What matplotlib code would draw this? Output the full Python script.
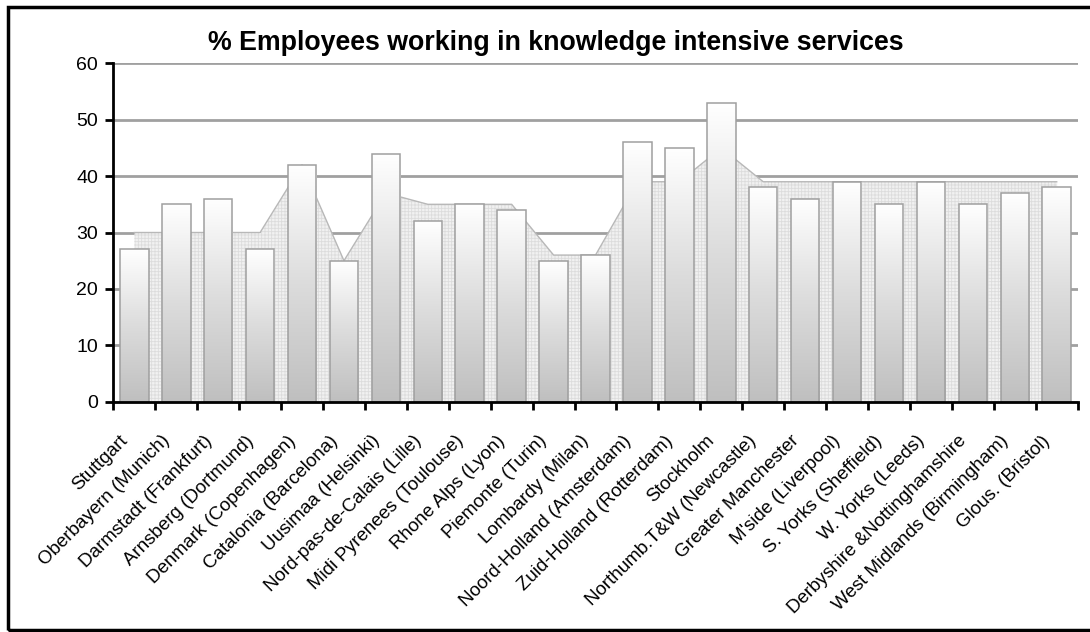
import numpy as np
import matplotlib.pyplot as plt
from matplotlib.patches import Rectangle
from matplotlib.colors import LinearSegmentedColormap

plt.rcParams['font.family'] = ['Liberation Sans', 'DejaVu Sans']

regions = [
    'Stuttgart', 'Oberbayern (Munich)', 'Darmstadt (Frankfurt)', 'Arnsberg (Dortmund)',
    'Denmark (Copenhagen)', 'Catalonia (Barcelona)', 'Uusimaa (Helsinki)',
    'Nord-pas-de-Calais (Lille)', 'Midi Pyrenees (Toulouse)', 'Rhone Alps (Lyon)',
    'Piemonte (Turin)', 'Lombardy (Milan)', 'Noord-Holland (Amsterdam)',
    'Zuid-Holland (Rotterdam)', 'Stockholm', 'Northumb.T&W (Newcastle)',
    'Greater Manchester', "M'side (Liverpool)", 'S. Yorks (Sheffield)',
    'W. Yorks (Leeds)', 'Derbyshire &Nottinghamshire', 'West Midlands (Birmingham)',
    'Glous. (Bristol)',
]
# regional share of employees in knowledge intensive services (%)
region_pct = [27, 35, 36, 27, 42, 25, 44, 32, 35, 34, 25, 26, 46, 45, 53,
              38, 36, 39, 35, 39, 35, 37, 38]
# national share for the country each region belongs to (%)
national_pct = [30, 30, 30, 30, 42, 25, 37, 35, 35, 35, 26, 26, 39, 39, 45,
                39, 39, 39, 39, 39, 39, 39, 39]

fig = plt.figure(figsize=(10.9, 6.32), dpi=100)
ax = fig.add_axes([0.104, 0.3644, 0.8847, 0.5354])

x = np.arange(len(regions))

# national level as a textured area behind the bars
ax.fill_between(x, national_pct, color='#f1f1f1', lw=0, zorder=1)
plt.rcParams['hatch.color'] = '#d9d9d9'
plt.rcParams['hatch.linewidth'] = 0.6
ax.fill_between(x, national_pct, facecolor='none', edgecolor='#dcdcdc',
                hatch='+++++', lw=0, zorder=1.1)
ax.plot(x, national_pct, color='#b8b8b8', lw=1, zorder=1.2)

# bars with a white-to-grey vertical gradient
cmap = LinearSegmentedColormap.from_list('bar_grad', ['#bfbfbf', '#dcdcdc', '#ffffff'])
grad = np.linspace(0, 1, 256).reshape(-1, 1)
width = 0.68
for xi, v in zip(x, region_pct):
    rect = Rectangle((xi - width / 2, 0), width, v, facecolor='none',
                     edgecolor='#9f9f9f', lw=1.1, zorder=3)
    ax.add_patch(rect)
    im = ax.imshow(grad, extent=[xi - width / 2, xi + width / 2, 0, v],
                   origin='lower', aspect='auto', cmap=cmap, zorder=2,
                   interpolation='bilinear')
    im.set_clip_path(rect)

ax.set_xlim(-0.5, len(regions) - 0.5)
ax.set_ylim(0, 60)
ax.set_yticks(range(0, 61, 10))
ax.yaxis.grid(True, color='#a0a0a0', lw=2)
ax.set_axisbelow(True)

# label anchors sit a little left of each bar centre, hanging further down
ax.set_xticks(x - 0.36)
ax.set_xticklabels(regions, rotation=45, ha='right', rotation_mode='anchor',
                   fontsize=13.5)
ax.set_xticks(np.arange(-0.5, len(regions)), minor=True)
ax.tick_params(axis='x', which='major', length=0, pad=22)
ax.tick_params(axis='x', which='minor', length=6, width=2, direction='out')
ax.tick_params(axis='y', length=6, width=2, direction='out', labelsize=14, pad=5)

for side in ['top', 'right']:
    ax.spines[side].set_visible(False)
for side in ['left', 'bottom']:
    ax.spines[side].set_linewidth(2)
    ax.spines[side].set_zorder(4)

fig.text(0.5096, 0.921, '% Employees working in knowledge intensive services',
         ha='center', va='baseline', fontsize=19.3, fontweight='bold')

# outer frame; its right edge runs past the canvas
fig.patches.append(Rectangle((8 / 1090, 2 / 632), 1090 / 1090, 623 / 632,
                             transform=fig.transFigure, fill=False,
                             edgecolor='black', lw=2.5))

fig.savefig('out.png', dpi=100)
